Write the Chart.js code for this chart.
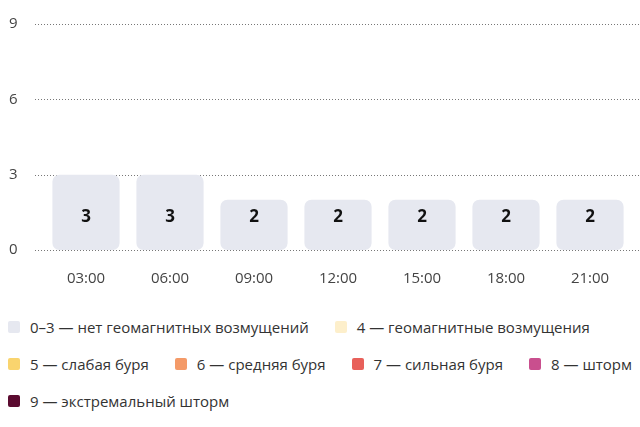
<!DOCTYPE html>
<html>
<head>
<meta charset="utf-8">
<script src="https://cdn.jsdelivr.net/npm/chart.js@4"></script>
<style>
  body { margin: 0; background: #fff; font-family: 'Open Sans', sans-serif; }
  #wrap { position: relative; width: 640px; height: 300px; }
  #legend { position: absolute; top: 317px; left: 8px; width: 632px; display: flex; flex-wrap: wrap; column-gap: 26px; row-gap: 17px; }
  .item { display: flex; align-items: center; font-size: 15px; color: #333; white-space: nowrap; height: 20px; }
  .box { width: 12px; height: 12px; border-radius: 2px; margin-right: 10px; }
</style>
</head>
<body>
<div id="wrap"><canvas id="chart" width="640" height="300"></canvas></div>
<div id="legend"></div>
<script>
'use strict';

// Data
var hours = ['03:00', '06:00', '09:00', '12:00', '15:00', '18:00', '21:00'];
var kpValues = [3, 3, 2, 2, 2, 2, 2];
var yTicks = [0, 3, 6, 9];

// Legend levels
var levelLabels = [
  '0–3 — нет геомагнитных возмущений',
  '4 — геомагнитные возмущения',
  '5 — слабая буря',
  '6 — средняя буря',
  '7 — сильная буря',
  '8 — шторм',
  '9 — экстремальный шторм'
];
var levelColors = ['#e6e8f0', '#fdefcb', '#f9d46e', '#f49a68', '#e8605a', '#c94f8e', '#5b0b30'];

function colorFor(v) {
  if (v <= 3) return levelColors[0];
  return levelColors[Math.min(v, 9) - 3];
}

// Build legend
var legend = document.getElementById('legend');
for (var i = 0; i < levelLabels.length; i++) {
  var item = document.createElement('div');
  item.className = 'item';
  item.innerHTML = '<span class="box" style="background:' + levelColors[i] + '"></span>' + levelLabels[i];
  legend.appendChild(item);
}

// Dotted grid lines across full width
var dottedGrid = {
  id: 'dottedGrid',
  beforeDatasetsDraw: function(chart) {
    var ctx = chart.ctx;
    var y = chart.scales.y;
    ctx.save();
    ctx.strokeStyle = '#777';
    ctx.lineWidth = 1;
    ctx.setLineDash([1, 2]);
    yTicks.forEach(function(t) {
      var py = Math.round(y.getPixelForValue(t)) + 0.5;
      ctx.beginPath();
      ctx.moveTo(35, py);
      ctx.lineTo(chart.width, py);
      ctx.stroke();
    });
    ctx.restore();
  }
};

// Value labels inside bars
var barLabels = {
  id: 'barLabels',
  afterDatasetsDraw: function(chart) {
    var ctx = chart.ctx;
    var meta = chart.getDatasetMeta(0);
    var y = chart.scales.y.getPixelForValue(1.3);
    ctx.save();
    ctx.font = 'bold 17px "Open Sans", sans-serif';
    ctx.fillStyle = '#111';
    ctx.textAlign = 'center';
    ctx.textBaseline = 'middle';
    meta.data.forEach(function(bar, i) {
      ctx.fillText(kpValues[i], bar.x, y);
    });
    ctx.restore();
  }
};

var ctx = document.getElementById('chart').getContext('2d');
new Chart(ctx, {
  type: 'bar',
  data: {
    labels: hours,
    datasets: [{
      data: kpValues,
      backgroundColor: kpValues.map(colorFor),
      borderRadius: 7,
      borderSkipped: false,
      categoryPercentage: 1,
      barPercentage: 0.8
    }]
  },
  options: {
    responsive: false,
    animation: false,
    devicePixelRatio: 1,
    layout: { padding: { top: 24, right: 8, bottom: 0, left: 9 } },
    plugins: { legend: { display: false }, tooltip: { enabled: false } },
    scales: {
      x: {
        grid: { display: false },
        border: { display: false },
        ticks: { color: '#444', font: { family: 'Open Sans', size: 15 }, padding: 12, maxRotation: 0 }
      },
      y: {
        min: 0,
        max: 9,
        afterBuildTicks: function(axis) {
          axis.ticks = yTicks.map(function(v) { return { value: v }; });
        },
        afterFit: function(axis) { axis.width = 35; },
        grid: { display: false },
        border: { display: false },
        ticks: { color: '#444', font: { family: 'Open Sans', size: 15 }, align: 'center', crossAlign: 'far', padding: 0 }
      }
    }
  },
  plugins: [dottedGrid, barLabels]
});
</script>
</body>
</html>
